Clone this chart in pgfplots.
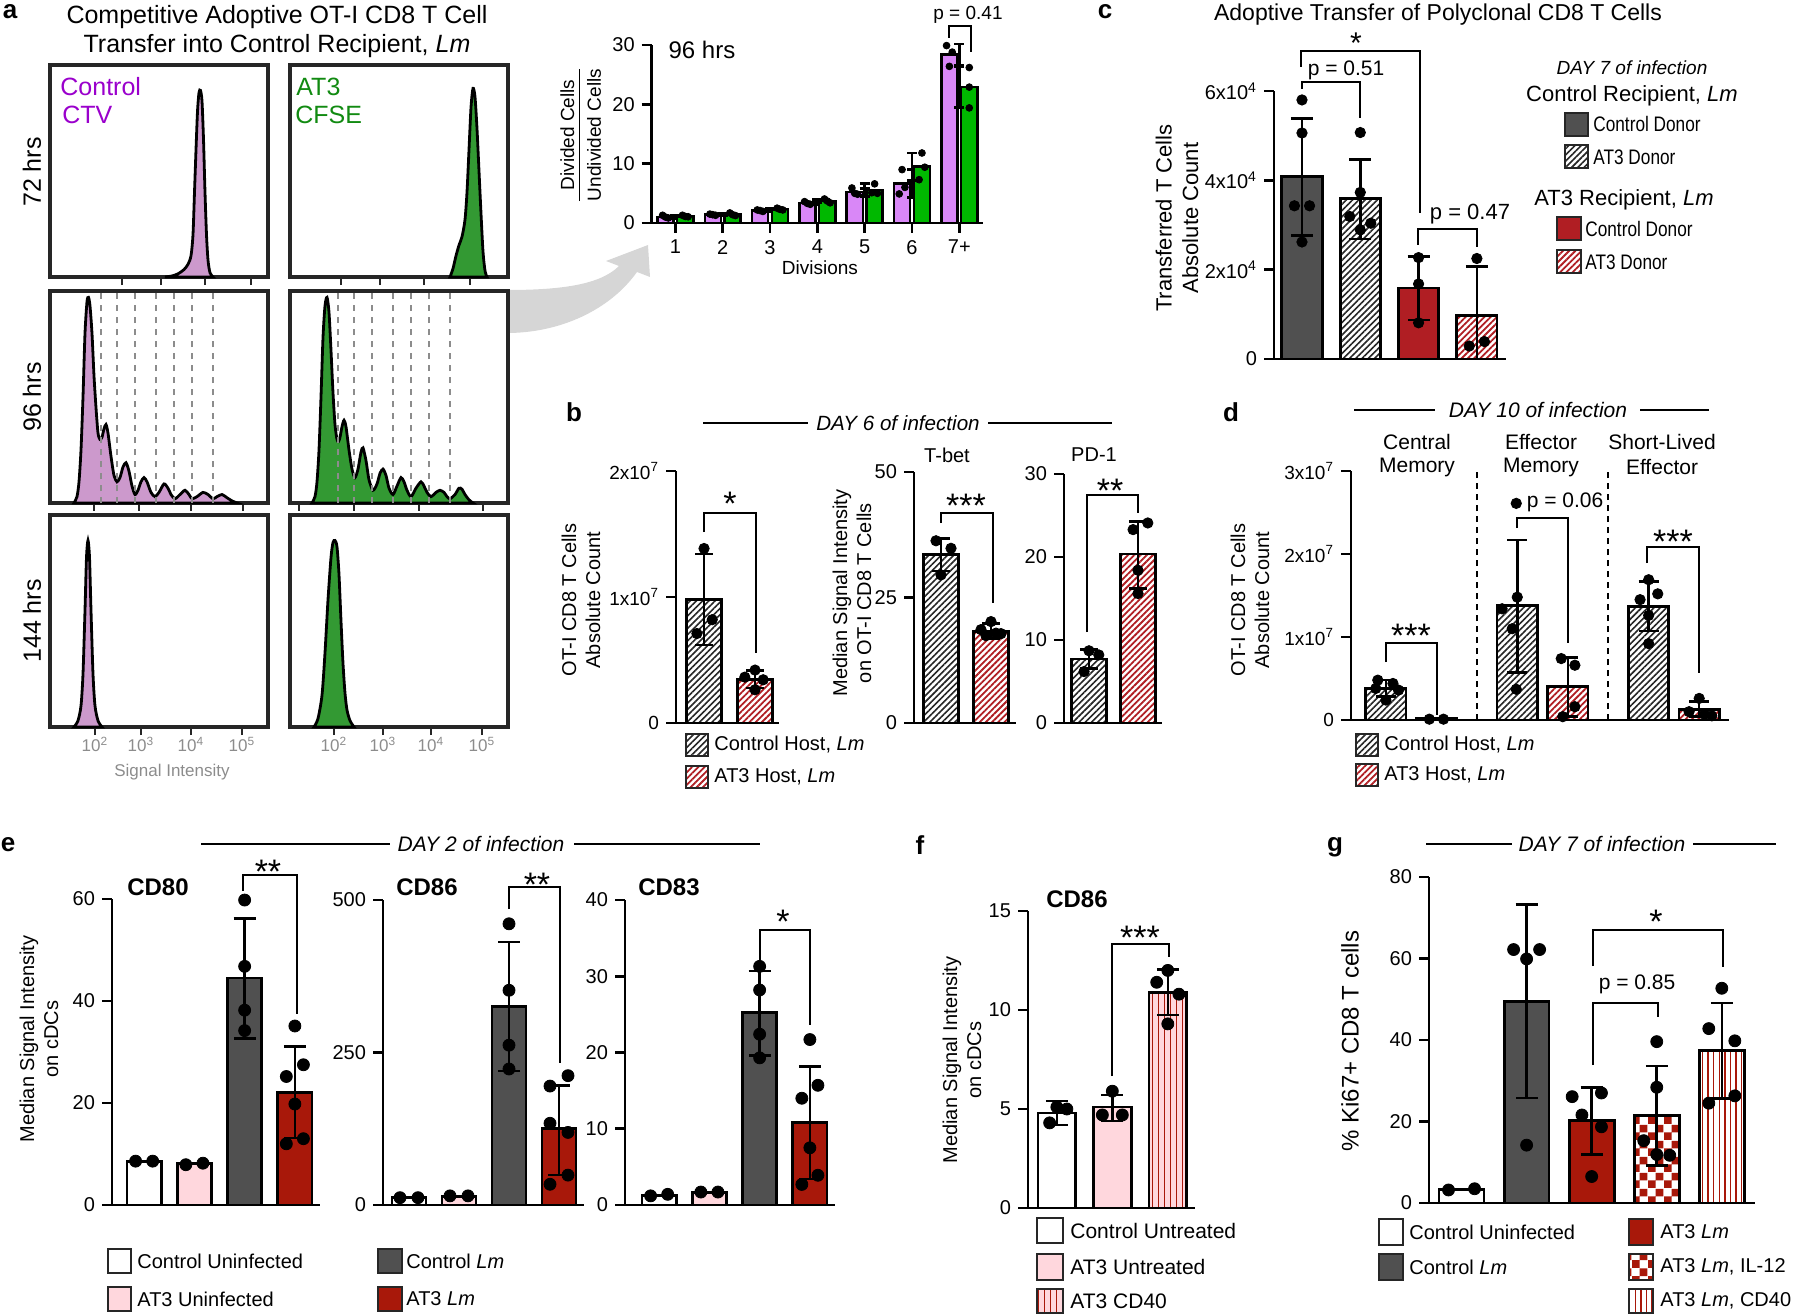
\documentclass[border=0pt]{standalone}
\usepackage{fontspec}
\setmainfont{Liberation Sans}
\newfontfamily\nf[FakeStretch=0.82]{Liberation Sans}
\usepackage{pgfplots}
\pgfplotsset{compat=1.18}
\usetikzlibrary{patterns,patterns.meta}
\newcommand{\fs}[1]{\fontsize{#1}{\fpeval{1.2*#1}}\selectfont}
\newcommand{\sq}[1]{\textsuperscript{#1}}
\definecolor{dgray}{HTML}{505050}
\definecolor{histpur}{HTML}{CC99CC}
\definecolor{histgrn}{HTML}{339933}
\definecolor{barpur}{HTML}{D987F7}
\definecolor{bargrn}{HTML}{00B800}
\definecolor{cred}{HTML}{B01E23}
\definecolor{ered}{HTML}{A8180A}
\definecolor{lpink}{HTML}{FFD7DD}
\definecolor{ctvcol}{HTML}{9A00CC}
\definecolor{cfsecol}{HTML}{118A11}
\definecolor{arrowgray}{HTML}{D6D6D6}
\pgfdeclarepatternformonly{checks}{\pgfpointorigin}{\pgfqpoint{8pt}{8pt}}{\pgfqpoint{8pt}{8pt}}{%
  \pgfpathrectangle{\pgfpointorigin}{\pgfqpoint{4pt}{4pt}}%
  \pgfpathrectangle{\pgfqpoint{4pt}{4pt}}{\pgfqpoint{4pt}{4pt}}%
  \pgfusepath{fill}}
\tikzset{
  P/.style={x=0.5pt,y=-0.5pt},
  tx/.style={inner sep=0pt, font=\fs{10}},
  hatchg/.style={preaction={fill=white}, pattern={Lines[angle=45,distance=2.2pt,line width=0.8pt]}, pattern color=black!85},
  hatchr/.style={preaction={fill=white}, pattern={Lines[angle=45,distance=2.2pt,line width=0.9pt]}, pattern color=cred},
  stripf/.style={preaction={fill=lpink}, pattern={Lines[angle=90,distance=3pt,line width=0.5pt]}, pattern color=ered},
  stripg/.style={preaction={fill=white}, pattern={Lines[angle=90,distance=2.8pt,line width=0.7pt]}, pattern color=ered},
  checkg/.style={preaction={fill=white}, pattern=checks, pattern color=ered},
  brk/.style={line width=1.4pt},
  st/.style={inner sep=0pt, font=\fs{17}, anchor=base},
  lb/.style={line width=1.4pt, draw=black!85},
  lt/.style={inner sep=0pt, anchor=west, font=\fs{10}},
}
\pgfplotsset{
  /pgf/number format/assume math mode=true,
  bx/.style={anchor=south west, scale only axis, axis lines*=left, tick pos=left,
    axis line style={line width=1.4pt, black}, tick align=outside, major tick length=5pt,
    tick style={black, line width=1.4pt}, xtick=\empty, ymin=0, enlargelimits=false, clip=false,
    tick label style={font=\fs{10}}},
  hist/.style={anchor=south west, scale only axis, width=109pt, height=106pt,
    xmin=0, xmax=218, ymin=0, ymax=1, ytick=\empty, tick pos=left, tick align=outside,
    axis line style={line width=1.6pt, black!85}, tick style={black!85, line width=1pt},
    major tick length=4pt, clip=false, xticklabels={}, xticklabel style={font=\fs{8.5}, text=black!45, inner sep=1pt}},
  hc/.style={draw=black, line width=1.4pt, smooth, tension=0.45, fill=#1},
  bb/.style={ybar, bar width=#1, bar shift=0pt, draw=black, line width=1.4pt},
  eb/.style={/pgfplots/error bars/y dir=both, /pgfplots/error bars/y explicit,
    /pgfplots/error bars/error bar style={black, line width=1.3pt, solid},
    /pgfplots/error bars/error mark options={black, line width=1.3pt, mark size=#1, rotate=90}},
  dt/.style={only marks, mark=*, mark size=#1, black, mark options={solid, fill=black, draw=black}},
}
\begin{document}
\begin{tikzpicture}
\begin{scope}[P]
\useasboundingbox (0,0) rectangle (1800,1316);
\fill[arrowgray] (507,290) .. controls (560,290) and (600,285) .. (619,266) -- (606,261) -- (648,245) -- (650,277) -- (637,272) .. controls (610,310) and (560,333) .. (507,333) -- cycle;
\end{scope}

%================ PANEL A: histograms =================
\begin{axis}[hist, at={(50*0.5pt,-277*0.5pt)}, xtick={72,111,155,201}]
\addplot[hc=histpur] coordinates {(115,0) (122,0.005) (128,0.015) (134,0.035) (138,0.06) (141,0.1) (143,0.2) (144.5,0.4) (146,0.6) (147.5,0.78) (149,0.87) (150.5,0.88) (152,0.83) (153.5,0.65) (155,0.4) (156.5,0.2) (158,0.08) (160,0.02) (163,0)} \closedcycle;
\end{axis}
\begin{axis}[hist, at={(290*0.5pt,-277*0.5pt)}, xtick={51,90,134,180}]
\addplot[hc=histgrn] coordinates {(160,0) (163,0.04) (166,0.1) (169,0.15) (172,0.19) (175,0.27) (177,0.4) (179,0.6) (181,0.8) (183,0.89) (185,0.85) (187,0.7) (189,0.5) (191,0.3) (193,0.12) (195,0.03) (197,0)} \closedcycle;
\end{axis}
\begin{axis}[hist, at={(50*0.5pt,-503*0.5pt)}, xtick={44,89,141,193}]
\addplot[hc=histpur] coordinates {(24,0) (27,0.03) (29,0.1) (31,0.25) (33,0.5) (35,0.8) (37,0.95) (38.5,0.97) (40,0.93) (42,0.8) (44,0.6) (46,0.45) (48,0.33) (50,0.30) (52,0.31) (54,0.35) (56,0.37) (58,0.33) (61,0.22) (64,0.13) (67,0.10) (70,0.12) (73,0.17) (76,0.19) (79,0.15) (82,0.08) (85,0.04) (88,0.06) (91,0.10) (94,0.12) (97,0.10) (101,0.05) (105,0.03) (109,0.05) (114,0.09) (118,0.07) (121,0.04) (125,0.02) (130,0.04) (135,0.06) (139,0.04) (142,0.02) (147,0.03) (153,0.05) (158,0.04) (163,0.02) (167,0.03) (172,0.04) (177,0.025) (182,0.01) (187,0)} \closedcycle;
\pgfplotsinvokeforeach{51,67,85,106,124,142,163}{\draw[black!45, line width=1pt, dash pattern=on 3pt off 3pt] (axis cs:#1,0) -- (axis cs:#1,1);}
\end{axis}
\begin{axis}[hist, at={(290*0.5pt,-503*0.5pt)}, xtick={9,64,129,193}]
\addplot[hc=histgrn] coordinates {(22,0) (25,0.03) (27,0.1) (29,0.25) (31,0.5) (33,0.78) (35,0.93) (37,0.97) (39,0.9) (41,0.72) (43,0.52) (45,0.37) (47,0.3) (48.5,0.29) (50,0.31) (52,0.36) (54,0.39) (56,0.36) (59,0.25) (62,0.16) (65,0.12) (68,0.16) (71,0.24) (73,0.26) (76,0.2) (79,0.11) (83,0.06) (87,0.09) (90,0.14) (93,0.16) (96,0.13) (99,0.07) (103,0.04) (107,0.08) (111,0.12) (114,0.1) (117,0.06) (121,0.03) (126,0.07) (131,0.10) (134,0.08) (137,0.05) (141,0.03) (146,0.05) (150,0.06) (154,0.05) (157,0.03) (160,0.02) (165,0.04) (169,0.07) (172,0.065) (175,0.04) (179,0.015) (183,0)} \closedcycle;
\pgfplotsinvokeforeach{48,64,82,103,121,139,160}{\draw[black!45, line width=1pt, dash pattern=on 3pt off 3pt] (axis cs:#1,0) -- (axis cs:#1,1);}
\end{axis}
\begin{axis}[hist, at={(50*0.5pt,-727*0.5pt)}, xtick={45,91,141,192}, xticklabels={10\sq{2},10\sq{3},10\sq{4},10\sq{5}}]
\addplot[hc=histpur] coordinates {(24,0) (28,0.03) (31,0.1) (33,0.25) (35,0.55) (36.5,0.8) (38,0.88) (39.5,0.8) (41,0.55) (43,0.25) (45,0.1) (48,0.03) (52,0)} \closedcycle;
\end{axis}
\begin{axis}[hist, at={(290*0.5pt,-727*0.5pt)}, xtick={44,93,141,192}, xticklabels={10\sq{2},10\sq{3},10\sq{4},10\sq{5}}]
\addplot[hc=histgrn] coordinates {(24,0) (28,0.04) (32,0.15) (35,0.35) (38,0.6) (41,0.8) (43,0.87) (45,0.88) (47,0.85) (49,0.72) (51,0.5) (53,0.3) (55,0.16) (57,0.08) (60,0.03) (64,0)} \closedcycle;
\end{axis}

%================ PANEL A: division bar chart =================
\begin{axis}[bx, at={(651.7*0.5pt,-223*0.5pt)}, width=165.65pt, height=89pt, xmin=0.5, xmax=7.5, ymax=30,
  ytick={0,10,20,30}, xtick={1,2,3,4,5,6,7}, xticklabels={1,2,3,4,5,6,7+}]
\addplot[bb=0.34, eb=2.5pt, bar shift=-0.21, fill=barpur, line width=1.2pt] coordinates {
 (1,1.05) +- (0,0.25) (2,1.4) +- (0,0.15) (3,2.1) +- (0,0.2) (4,3.35) +- (0,0.25)
 (5,5.25) +- (0,0.6) (6,6.65) +- (0,2.4) (7,28.4) +- (0,1.8)};
\addplot[bb=0.34, eb=2.5pt, bar shift=0.21, fill=bargrn, line width=1.2pt] coordinates {
 (1,1.15) +- (0,0.15) (2,1.45) +- (0,0.2) (3,2.35) +- (0,0.15) (4,3.7) +- (0,0.3)
 (5,5.55) +- (0,1.1) (6,9.5) +- (0,2.3) (7,22.9) +- (0,3.4)};
\addplot[dt=1.7pt] coordinates {
 (0.73,1.3)(0.79,1.0)(0.85,0.85) (1.73,1.5)(1.79,1.4)(1.85,1.3) (2.73,2.2)(2.79,2.1)(2.85,1.95)
 (3.73,3.6)(3.79,3.3)(3.85,3.15) (4.73,5.9)(4.79,5.0)(4.85,4.85) (5.79,9.0)(5.85,6.0)(5.73,4.9)
 (6.73,29.9)(6.85,28.8)(6.79,26.4)
 (1.15,1.3)(1.21,1.1)(1.27,1.05) (2.15,1.7)(2.21,1.4)(2.27,1.25) (3.15,2.5)(3.21,2.3)(3.27,2.2)
 (4.15,4.05)(4.21,3.7)(4.27,3.4) (5.21,6.6)(5.15,5.1)(5.27,5.0) (6.21,11.8)(6.27,9.4)(6.15,7.3)
 (7.21,26.2)(7.21,22.9)(7.21,19.4)};
\end{axis}

%================ PANEL C =================
\begin{axis}[bx, at={(1274*0.5pt,-359*0.5pt)}, width=116pt, height=134pt, xmin=-0.48, xmax=3.5, ymax=6,
  ytick={0,2,4,6}, yticklabels={0,2x10\sq{4},4x10\sq{4},6x10\sq{4}}]
\addplot[bb=0.69, eb=5.5pt, fill=dgray] coordinates {(0,4.08) += (0,1.30) -= (0,1.32)};
\addplot[bb=0.69, eb=5.5pt, hatchg] coordinates {(1,3.6) += (0,0.87) -= (0,0.91)};
\addplot[bb=0.69, eb=5.5pt, fill=cred] coordinates {(2,1.59) += (0,0.70) -= (0,0.72)};
\addplot[bb=0.69, eb=5.5pt, hatchr] coordinates {(3,0.98) += (0,1.09) -= (0,0.98)};
\addplot[dt=2.6pt] coordinates {(0,5.8)(0,5.06)(-0.13,3.43)(0.13,3.43)(0,2.62)
 (1,5.07)(1,3.73)(0.82,3.19)(1.18,3.04)(1,2.89) (2,2.27)(2,1.68)(2,0.81) (3,2.25)(3.13,0.39)(2.87,0.29)};
\end{axis}

%================ PANEL B =================
\begin{axis}[bx, at={(676*0.5pt,-723*0.5pt)}, width=51.5pt, height=126pt, xmin=-0.55, xmax=1.47, ymax=2,
  ytick={0,1,2}, yticklabels={0,1x10\sq{7},2x10\sq{7}}, tick label style={font=\fs{9.5}}]
\addplot[bb=0.7, eb=4.5pt, hatchg] coordinates {(0,0.98) +- (0,0.36)};
\addplot[bb=0.7, eb=4.5pt, hatchr] coordinates {(1,0.348) +- (0,0.07)};
\addplot[dt=2.6pt] coordinates {(0,1.385)(0.16,0.82)(-0.14,0.71)(1,0.42)(0.8,0.364)(1.16,0.343)(1,0.264)};
\end{axis}
\begin{axis}[bx, at={(914*0.5pt,-723*0.5pt)}, width=51pt, height=125.5pt, xmin=-0.54, xmax=1.5, ymax=50, ytick={0,25,50}]
\addplot[bb=0.7, eb=4.5pt, hatchg] coordinates {(0,33.5) +- (0,3.2)};
\addplot[bb=0.7, eb=4.5pt, hatchr] coordinates {(1,18.3) +- (0,1.5)};
\addplot[dt=2.6pt] coordinates {(-0.1,36.3)(0.2,34.8)(0,29.5)(1,20.2)(0.8,18.6)(1.2,17.8)(0.9,17.4)(1.1,17.9)};
\end{axis}
\begin{axis}[bx, at={(1064*0.5pt,-723*0.5pt)}, width=49pt, height=124.5pt, xmin=-0.51, xmax=1.49, ymax=30, ytick={0,10,20,30}]
\addplot[bb=0.7, eb=4.5pt, hatchg] coordinates {(0,7.7) +- (0,1.15)};
\addplot[bb=0.7, eb=4.5pt, hatchr] coordinates {(1,20.35) += (0,3.95) -= (0,4.15)};
\addplot[dt=2.6pt] coordinates {(0,8.7)(0.2,8.2)(-0.1,6.2)(1.2,24.1)(0.9,23.3)(1,18.4)(1,15.6)};
\end{axis}

%================ PANEL D =================
\begin{axis}[bx, at={(1351*0.5pt,-720*0.5pt)}, width=189pt, height=124.5pt, xmin=-0.69, xmax=6.79, ymax=3,
  ytick={0,1,2,3}, yticklabels={0,1x10\sq{7},2x10\sq{7},3x10\sq{7}}, tick label style={font=\fs{9.5}}]
\draw[line width=1.1pt, dash pattern=on 3pt off 2.5pt] (axis cs:1.8,0) -- (axis cs:1.8,3);
\draw[line width=1.1pt, dash pattern=on 3pt off 2.5pt] (axis cs:4.4,0) -- (axis cs:4.4,3);
\addplot[bb=0.8, eb=5pt, hatchg] coordinates {(0,0.38) +- (0,0.10) (2.6,1.38) += (0,0.79) -= (0,0.81) (5.2,1.37) +- (0,0.30)};
\addplot[bb=0.8, hatchr] coordinates {(1,0.02)};
\addplot[bb=0.8, eb=5pt, hatchr] coordinates {(3.6,0.40) += (0,0.35) -= (0,0.36) (6.2,0.13) +- (0,0.09)};
\addplot[dt=2.6pt] coordinates {(-0.16,0.48)(0.14,0.44)(-0.2,0.38)(0.25,0.36)(0,0.24)
 (0.86,0.01)(1.14,0.01)
 (2.58,2.61)(2.6,1.48)(2.3,1.34)(2.5,1.10)(2.58,0.37)
 (3.47,0.74)(3.74,0.66)(3.74,0.16)(3.5,0.04)
 (5.2,1.69)(5.03,1.45)(5.38,1.52)(5.2,1.26)(5.2,0.92)
 (6.2,0.26)(6.0,0.10)(6.3,0.07)(6.45,0.05)};
\end{axis}

%================ PANEL E =================
\begin{axis}[bx, at={(112*0.5pt,-1205*0.5pt)}, width=104pt, height=153pt, xmin=-0.64, xmax=3.5, ymax=60, ytick={0,20,40,60}]
\addplot[bb=0.68, fill=white] coordinates {(0,8.6)};
\addplot[bb=0.68, fill=lpink] coordinates {(1,8.1)};
\addplot[bb=0.68, eb=5.5pt, fill=dgray] coordinates {(2,44.5) += (0,11.7) -= (0,11.9)};
\addplot[bb=0.68, eb=5.5pt, fill=ered] coordinates {(3,22.1) +- (0,9)};
\addplot[dt=3pt] coordinates {(-0.17,8.6)(0.17,8.6)(0.83,7.9)(1.17,8.2)(2,59.8)(2,46.8)(2,38.2)(2,34.2)(3,35.1)(3.17,27.5)(2.83,25.2)(3,19.8)(3.17,13.0)(2.83,12.0)};
\end{axis}
\begin{axis}[bx, at={(383*0.5pt,-1205*0.5pt)}, width=100.5pt, height=152.5pt, xmin=-0.52, xmax=3.5, ymax=500, ytick={0,250,500}]
\addplot[bb=0.68, fill=white] coordinates {(0,12)};
\addplot[bb=0.68, fill=lpink] coordinates {(1,14)};
\addplot[bb=0.68, eb=5.5pt, fill=dgray] coordinates {(2,326) += (0,105) -= (0,106)};
\addplot[bb=0.68, eb=5.5pt, fill=ered] coordinates {(3,125) += (0,71) -= (0,76)};
\addplot[dt=3pt] coordinates {(-0.18,12)(0.18,12)(0.82,15)(1.18,15)(2,461)(2,352)(2,262)(2,223)(3.18,212)(2.82,195)(2.82,134)(3.18,119)(3.18,49)(2.82,34)};
\end{axis}
\begin{axis}[bx, at={(625*0.5pt,-1205*0.5pt)}, width=105pt, height=152.5pt, xmin=-0.68, xmax=3.5, ymax=40, ytick={0,10,20,30,40}]
\addplot[bb=0.68, fill=white] coordinates {(0,1.2)};
\addplot[bb=0.68, fill=lpink] coordinates {(1,1.6)};
\addplot[bb=0.68, eb=5.5pt, fill=dgray] coordinates {(2,25.2) += (0,5.5) -= (0,5.6)};
\addplot[bb=0.68, eb=5.5pt, fill=ered] coordinates {(3,10.8) +- (0,7.4)};
\addplot[dt=3pt] coordinates {(-0.17,1.2)(0.17,1.4)(0.83,1.7)(1.17,1.7)(2,31.3)(2,28.2)(2,22.4)(2,19.3)(3,21.7)(3.16,15.7)(2.84,14.0)(3,7.5)(3.16,3.9)(2.84,2.7)};
\end{axis}

%================ PANEL F =================
\begin{axis}[bx, at={(1028*0.5pt,-1208*0.5pt)}, width=83.5pt, height=148.5pt, xmin=-0.52, xmax=2.49, ymax=15, ytick={0,5,10,15}]
\addplot[bb=0.68, eb=5.5pt, fill=white] coordinates {(0,4.8) +- (0,0.6)};
\addplot[bb=0.68, eb=5.5pt, fill=lpink] coordinates {(1,5.1) += (0,0.6) -= (0,0.7)};
\addplot[bb=0.68, eb=5.5pt, stripf] coordinates {(2,10.9) +- (0,1.15)};
\addplot[dt=3pt] coordinates {(0,5.1)(0.18,5.0)(-0.13,4.3)(1,5.9)(0.82,4.7)(1.18,4.7)(2,12.0)(1.8,11.4)(2.2,10.8)(2,9.3)};
\end{axis}

%================ PANEL G =================
\begin{axis}[bx, at={(1429*0.5pt,-1203*0.5pt)}, width=163pt, height=163pt, xmin=-0.5, xmax=4.51, ymax=80, ytick={0,20,40,60,80}]
\addplot[bb=0.69, fill=white] coordinates {(0,3.4)};
\addplot[bb=0.69, eb=5.5pt, fill=dgray] coordinates {(1,49.5) +- (0,23.7)};
\addplot[bb=0.69, eb=5.5pt, fill=ered] coordinates {(2,20.3) += (0,8.1) -= (0,8.4)};
\addplot[bb=0.69, eb=5.5pt, checkg] coordinates {(3,21.4) +- (0,12.2)};
\addplot[bb=0.69, eb=5.5pt, stripg] coordinates {(4,37.4) +- (0,11.7)};
\addplot[dt=3pt] coordinates {(-0.2,3.2)(0.2,3.5)(0.8,62.2)(1.2,62.2)(1,59.9)(1,14.2)(2.15,27.0)(1.7,26.1)(1.85,21.6)(2.15,18.7)(2,6.5)(3,39.6)(3,28.4)(2.8,15.3)(3,11.9)(3.2,11.7)(4,52.7)(3.8,42.8)(4.2,39.8)(4.2,26.3)(3.8,24.5)};
\end{axis}

%================ ANNOTATIONS =================
\begin{scope}[P]
% panel a
\node[tx, font=\bfseries\fs{13}] at (10,12) {a};
\node[tx, font=\fs{12.5}] at (277,17) {Competitive Adoptive OT-I CD8 T Cell};
\node[tx, font=\fs{12.5}] at (277,46) {Transfer into Control Recipient, \textit{Lm}};
\node[tx, font=\fs{12.5}, rotate=90] at (32,172) {72 hrs};
\node[tx, font=\fs{12.5}, rotate=90] at (32,397) {96 hrs};
\node[tx, font=\fs{12.5}, rotate=90] at (32,621) {144 hrs};
\node[tx, anchor=west, font=\fs{12.5}, text=ctvcol] at (60,87) {Control};
\node[tx, anchor=west, font=\fs{12.5}, text=ctvcol] at (62,115) {CTV};
\node[tx, anchor=west, font=\fs{12.5}, text=cfsecol] at (296,87) {AT3};
\node[tx, anchor=west, font=\fs{12.5}, text=cfsecol] at (295,115) {CFSE};
\node[tx, font=\fs{8.5}, text=black!45] at (172,772) {Signal Intensity};
\node[tx, font=\fs{12}] at (702,50) {96 hrs};
\node[tx, font=\fs{9.5}] at (820,268) {Divisions};
\node[rotate=90, inner sep=0pt, font=\fs{9.5}] at (583,135) {\begin{tabular}{@{}c@{}}Divided Cells\\[-1pt]\hline\rule{0pt}{10.5pt}Undivided Cells\end{tabular}};
\draw[brk] (949,38) -- (949,26) -- (971,26) -- (971,52);
\node[tx, font=\fs{9.5}] at (968,15) {p = 0.41};
% panel c
\node[tx, font=\bfseries\fs{13}] at (1105,12) {c};
\node[tx, font=\fs{11.5}] at (1438,15) {Adoptive Transfer of Polyclonal CD8 T Cells};
\node[rotate=90, align=center, inner sep=0pt, font=\fs{11}] at (1177,218) {Transferred T Cells\\Absolute Count};
\draw[brk] (1301,67) -- (1301,51) -- (1420,51) -- (1420,213);
\node[st, font=\fs{15}] at (1356,54) {*};
\draw[brk] (1302,89) -- (1302,82) -- (1360,82) -- (1360,118);
\node[tx, font=\fs{10.5}] at (1346,70) {p = 0.51};
\draw[brk] (1418,245) -- (1418,229) -- (1477,229) -- (1477,247);
\node[tx, font=\fs{11}] at (1470,214) {p = 0.47};
\node[tx, font=\itshape\fs{9.5}] at (1632,68) {DAY 7 of infection};
\node[tx, font=\fs{11}] at (1632,96) {Control Recipient, \textit{Lm}};
\draw[lb, fill=dgray] (1565,113) rectangle (1588,136);
\node[lt, font=\nf\fs{10.5}] at (1593,124) {Control Donor};
\draw[lb, hatchg] (1565,145) rectangle (1588,168);
\node[lt, font=\nf\fs{10.5}] at (1593,157) {AT3 Donor};
\node[tx, font=\fs{11}] at (1624,200) {AT3 Recipient, \textit{Lm}};
\draw[lb, fill=cred] (1557,217) rectangle (1581,240);
\node[lt, font=\nf\fs{10.5}] at (1585,229) {Control Donor};
\draw[lb, hatchr] (1557,250) rectangle (1581,273);
\node[lt, font=\nf\fs{10.5}] at (1585,262) {AT3 Donor};
% panel b
\node[tx, font=\bfseries\fs{13}] at (574,412) {b};
\draw[line width=1.2pt] (703,423) -- (808,423);
\draw[line width=1.2pt] (988,423) -- (1112,423);
\node[tx, font=\itshape\fs{10.3}] at (898,423) {DAY 6 of infection};
\node[rotate=90, align=center, inner sep=0pt, font=\fs{10}] at (581,600) {OT-I CD8 T Cells\\Absolute Count};
\draw[brk] (704,532) -- (704,513) -- (756,513) -- (756,653);
\node[st] at (730,515) {*};
\node[rotate=90, align=center, inner sep=0pt, font=\fs{10}] at (852,593) {Median Signal Intensity\\on OT-I CD8 T Cells};
\node[tx, font=\fs{10}] at (947,455) {T-bet};
\draw[brk] (941,523) -- (941,513) -- (993,513) -- (993,603);
\node[st] at (966,517) {***};
\node[tx, font=\fs{10}] at (1094,455) {PD-1};
\draw[brk] (1087,632) -- (1087,495) -- (1138,495) -- (1138,513);
\node[st] at (1110,502) {**};
\draw[lb, hatchg] (686,734) rectangle (708,756);
\node[lt] at (714,745) {Control Host, \textit{Lm}};
\draw[lb, hatchr] (686,766) rectangle (708,788);
\node[lt] at (714,777) {AT3 Host, \textit{Lm}};
% panel d
\node[tx, font=\bfseries\fs{13}] at (1231,412) {d};
\draw[line width=1.2pt] (1354,410) -- (1435,410);
\draw[line width=1.2pt] (1640,410) -- (1709,410);
\node[tx, font=\itshape\fs{10.5}] at (1538,410) {DAY 10 of infection};
\node[rotate=90, align=center, inner sep=0pt, font=\fs{10}] at (1250,600) {OT-I CD8 T Cells\\Absolute Count};
\node[tx, font=\fs{10.5}] at (1417,442) {Central};
\node[tx, font=\fs{10.5}] at (1417,467) {Memory};
\node[tx, font=\fs{10.5}] at (1541,442) {Effector};
\node[tx, font=\fs{10.5}] at (1541,467) {Memory};
\node[tx, font=\fs{10.5}] at (1662,442) {Short-Lived};
\node[tx, font=\fs{10.5}] at (1662,467) {Effector};
\draw[brk] (1386,662) -- (1386,643) -- (1437,643) -- (1437,715);
\node[st] at (1411,647) {***};
\draw[brk] (1517,528) -- (1517,518) -- (1568,518) -- (1568,643);
\node[tx, font=\fs{10.5}] at (1565,502) {p = 0.06};
\draw[brk] (1647,563) -- (1647,547) -- (1699,547) -- (1699,673);
\node[st] at (1673,553) {***};
\draw[lb, hatchg] (1356,734) rectangle (1378,756);
\node[lt] at (1384,745) {Control Host, \textit{Lm}};
\draw[lb, hatchr] (1356,764) rectangle (1378,786);
\node[lt] at (1384,775) {AT3 Host, \textit{Lm}};
% panel e
\node[tx, font=\bfseries\fs{13}] at (8,845) {e};
\draw[line width=1.2pt] (201,844) -- (390,844);
\draw[line width=1.2pt] (574,844) -- (760,844);
\node[tx, font=\itshape\fs{10.5}] at (481,844) {DAY 2 of infection};
\node[tx, font=\bfseries\fs{12}] at (158,887) {CD80};
\draw[brk] (243,891) -- (243,875) -- (297,875) -- (297,1014);
\node[st] at (268,883) {**};
\node[tx, font=\bfseries\fs{12}] at (427,887) {CD86};
\draw[brk] (509,909) -- (509,887) -- (560,887) -- (560,1063);
\node[st] at (537,896) {**};
\node[tx, font=\bfseries\fs{12}] at (669,887) {CD83};
\draw[brk] (760,960) -- (760,930) -- (810,930) -- (810,1025);
\node[st] at (783,933) {*};
\node[rotate=90, align=center, inner sep=0pt, font=\fs{10}] at (39,1039) {Median Signal Intensity\\on cDCs};
\draw[lb, fill=white] (108,1249) rectangle (131,1273);
\node[lt] at (137,1261) {Control Uninfected};
\draw[lb, fill=lpink] (108,1287) rectangle (131,1311);
\node[lt] at (137,1299) {AT3 Uninfected};
\draw[lb, fill=dgray] (378,1249) rectangle (402,1273);
\node[lt] at (406,1261) {Control \textit{Lm}};
\draw[lb, fill=ered] (378,1287) rectangle (402,1311);
\node[lt] at (406,1299) {AT3 \textit{Lm}};
% panel f
\node[tx, font=\bfseries\fs{13}] at (920,845) {f};
\node[tx, font=\bfseries\fs{12}] at (1077,899) {CD86};
\draw[brk] (1112,1076) -- (1112,944) -- (1169,944) -- (1169,957);
\node[st] at (1140,949) {***};
\node[rotate=90, align=center, inner sep=0pt, font=\fs{10}] at (962,1060) {Median Signal Intensity\\on cDCs};
\draw[lb, fill=white] (1037,1218) rectangle (1063,1243);
\node[lt, font=\fs{10.5}] at (1070,1231) {Control Untreated};
\draw[lb, fill=lpink] (1037,1254) rectangle (1063,1280);
\node[lt, font=\fs{10.5}] at (1070,1267) {AT3 Untreated};
\draw[lb, stripf] (1037,1289) rectangle (1063,1313);
\node[lt, font=\fs{10.5}] at (1070,1301) {AT3 CD40};
% panel g
\node[tx, font=\bfseries\fs{13}] at (1335,847) {g};
\draw[line width=1.2pt] (1426,844) -- (1512,844);
\draw[line width=1.2pt] (1693,844) -- (1776,844);
\node[tx, font=\itshape\fs{10.5}] at (1602,844) {DAY 7 of infection};
\node[rotate=90, inner sep=0pt, font=\fs{12}] at (1350,1041) {\% Ki67+ CD8 T cells};
\draw[brk] (1593,966) -- (1593,930) -- (1723,930) -- (1723,967);
\node[st] at (1656,933) {*};
\draw[brk] (1593,1065) -- (1593,1003) -- (1658,1003) -- (1658,1017);
\node[tx, font=\fs{10.5}] at (1637,984) {p = 0.85};
\draw[lb, fill=white] (1379,1219) rectangle (1403,1245);
\node[lt] at (1409,1232) {Control Uninfected};
\draw[lb, fill=dgray] (1379,1254) rectangle (1403,1280);
\node[lt] at (1409,1267) {Control \textit{Lm}};
\draw[lb, fill=ered] (1629,1219) rectangle (1653,1245);
\node[lt] at (1660,1232) {AT3 \textit{Lm}};
\draw[lb, checkg] (1629,1254) rectangle (1653,1280);
\node[lt] at (1660,1267) {AT3 \textit{Lm}, IL-12};
\draw[lb, stripg] (1629,1289) rectangle (1653,1313);
\node[lt] at (1660,1301) {AT3 \textit{Lm}, CD40};
\end{scope}
\end{tikzpicture}
\end{document}
